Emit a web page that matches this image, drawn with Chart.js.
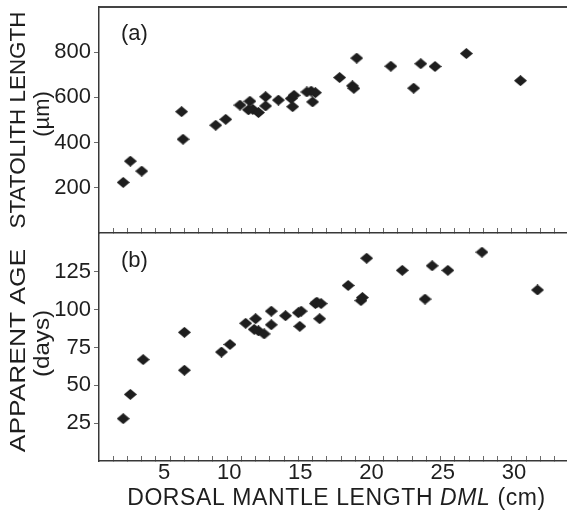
<!DOCTYPE html>
<html>
<head>
<meta charset="utf-8">
<script src="https://cdn.jsdelivr.net/npm/chart.js@4.4.1/dist/chart.umd.min.js"></script>
<style>
  html, body { margin: 0; padding: 0; background: #fff; }
  #wrap { position: relative; width: 573px; height: 519px; }
  #boxA { position: absolute; left: 0; top: 0; width: 573px; height: 240px; }
  #boxB { position: absolute; left: 0; top: 226px; width: 573px; height: 293px; }
</style>
</head>
<body>
<div id="wrap">
  <div id="boxA"><canvas id="chartA" width="573" height="240"></canvas></div>
  <div id="boxB"><canvas id="chartB" width="573" height="293"></canvas></div>
</div>
<script>
// panel (a): statolith length vs DML
const dmlA = [1.7, 2.2, 3.0, 5.8, 5.9, 8.2, 8.9, 9.9, 10.6, 10.5, 10.8, 11.2, 11.7, 11.7, 12.6, 13.5,
  13.7, 13.6, 14.6, 14.9, 15.2, 15.0, 16.9, 17.8, 17.9, 18.1, 20.5, 22.1, 22.6, 23.6, 25.8, 29.6];
const statolith = [224, 318, 274, 537, 415, 477, 503, 566, 583, 545, 547, 533, 562, 603, 588, 595,
  609, 559, 624, 628, 621, 580, 688, 651, 640, 774, 738, 641, 749, 737, 794, 674];

// panel (b): apparent age vs DML
const dmlB = [1.7, 2.2, 3.1, 6.0, 6.0, 8.6, 9.2, 10.3, 11.0, 10.9, 11.2, 11.6, 12.1, 12.1, 13.1, 14.0,
  14.2, 14.1, 15.2, 15.3, 15.6, 15.5, 17.5, 18.4, 18.5, 18.8, 21.3, 22.9, 23.4, 24.5, 26.9, 30.8];
const ageDays = [28, 44, 67, 85, 60, 72, 77, 91, 94, 87, 86, 84, 90, 99, 96, 98,
  99, 89, 104, 105, 104, 94, 116, 106, 108, 134, 126, 107, 129, 126, 138, 113];

const yTicksA = [200, 400, 600, 800];
const yTicksB = [25, 50, 75, 100, 125];
const xLabelEvery = 5;

const FONT = '"Liberation Sans", Arial, Helvetica, sans-serif';
const INK = '#1e1e1e';
const AXIS = '#383838';
const TICK = '#6a6a6a';

Chart.defaults.font.family = FONT;
Chart.defaults.color = INK;

// filled diamond, a little wider than tall like the original
function diamond(w, h) {
  const c = document.createElement('canvas');
  c.width = w; c.height = h;
  const g = c.getContext('2d');
  g.fillStyle = INK;
  g.beginPath();
  g.moveTo(w / 2, 0); g.lineTo(w, h / 2); g.lineTo(w / 2, h); g.lineTo(0, h / 2);
  g.closePath();
  g.fill();
  return c;
}
const marker = diamond(13, 11);

function pts(xs, ys) {
  return xs.map((x, i) => ({ x: x, y: ys[i] }));
}

function xScale(showLabels) {
  return {
    type: 'linear',
    min: 0,
    max: 32.8,
    afterBuildTicks: s => { s.ticks = s.ticks.filter(t => t.value > 0 && Number.isInteger(t.value)); },
    afterFit: s => {
      s.height = showLabels ? 58 : 6;
      s.paddingLeft = 0; s.paddingRight = 0;
    },
    ticks: {
      display: showLabels,
      stepSize: 1,
      includeBounds: false,
      autoSkip: false,
      maxRotation: 0,
      align: 'end',
      padding: 4,
      font: { size: 22 },
      color: INK,
      callback: v => (v % xLabelEvery === 0 ? String(v) : '')
    },
    grid: { drawOnChartArea: false, tickLength: -5, color: TICK, lineWidth: 1 },
    border: { color: AXIS, width: 1.5 }
  };
}

function yScale(max, keep) {
  return {
    min: 0,
    max: max,
    afterBuildTicks: s => { s.ticks = keep.map(v => ({ value: v })); },
    afterFit: s => {
      s.width = 99;
      s.paddingTop = 0; s.paddingBottom = 0;
    },
    ticks: { font: { size: 22 }, padding: 3, color: INK },
    grid: { drawOnChartArea: false, tickLength: 5, color: TICK, lineWidth: 1 },
    border: { color: AXIS, width: 1.5 }
  };
}

// y titles drawn by hand; the original stretches them along the axis
const yTitle = {
  id: 'yTitle',
  afterDraw(chart, args, opts) {
    const { ctx, chartArea } = chart;
    const cy = (chartArea.top + chartArea.bottom) / 2;
    ctx.save();
    ctx.fillStyle = INK;
    ctx.textAlign = 'center';
    ctx.textBaseline = 'middle';
    ctx.font = '22px ' + FONT;
    opts.lines.forEach((ln, i) => {
      ctx.save();
      ctx.translate(opts.x[i], cy + opts.shift[i]);
      ctx.rotate(-Math.PI / 2);
      ctx.scale(opts.stretch[i], 1);
      ctx.fillText(ln, 0, 0);
      ctx.restore();
    });
    ctx.restore();
  }
};

const panelTag = {
  id: 'panelTag',
  afterDraw(chart, args, opts) {
    const { ctx, chartArea } = chart;
    ctx.save();
    ctx.font = '22px ' + FONT;
    ctx.fillStyle = INK;
    ctx.textBaseline = 'alphabetic';
    ctx.fillText(opts.text, chartArea.left + 22, chartArea.top + opts.dy);
    ctx.restore();
  }
};

// x title with italic DML
const xTitle = {
  id: 'xTitle',
  afterDraw(chart, args, opts) {
    if (!opts.parts) return;
    const { ctx, chartArea } = chart;
    ctx.save();
    ctx.fillStyle = INK;
    ctx.textBaseline = 'alphabetic';
    ctx.letterSpacing = '0.6px';
    let total = 0;
    opts.parts.forEach(p => { ctx.font = p[1] + ' 23px ' + FONT; total += ctx.measureText(p[0]).width; });
    let x = (chartArea.left + chartArea.right) / 2 - total / 2 + 4;
    opts.parts.forEach(p => {
      ctx.font = p[1] + ' 23px ' + FONT;
      ctx.fillText(p[0], x, opts.y);
      x += ctx.measureText(p[0]).width;
    });
    ctx.restore();
  }
};

const chartA = new Chart(document.getElementById('chartA'), {
  type: 'scatter',
  data: {
    datasets: [{
      label: 'statolith',
      data: pts(dmlA, statolith),
      pointStyle: marker,
      pointRadius: 6
    }]
  },
  options: {
    responsive: false,
    animation: false,
    layout: { padding: { top: 7, left: 0, right: 0, bottom: 0 } },
    scales: {
      x: xScale(false),
      x2: {
        type: 'linear',
        position: 'top',
        afterFit: s => { s.height = 0; s.paddingLeft = 0; s.paddingRight = 0; },
        ticks: { display: false },
        grid: { display: false, drawTicks: false },
        border: { color: '#444', width: 2 }
      },
      y: yScale(1000, yTicksA)
    },
    plugins: {
      legend: { display: false },
      tooltip: { enabled: false },
      panelTag: { text: '(a)', dy: 33 },
      yTitle: { lines: ['STATOLITH LENGTH', '(\u00b5m)'], x: [19, 43], stretch: [1.02, 1], shift: [0, -6] }
    }
  },
  plugins: [panelTag, xTitle, yTitle]
});

const chartB = new Chart(document.getElementById('chartB'), {
  type: 'scatter',
  data: {
    datasets: [{
      label: 'age',
      data: pts(dmlB, ageDays),
      pointStyle: marker,
      pointRadius: 6
    }]
  },
  options: {
    responsive: false,
    animation: false,
    layout: { padding: { top: 8, left: 0, right: 0, bottom: 0 } },
    scales: {
      x: xScale(true),
      y: yScale(150, yTicksB)
    },
    plugins: {
      legend: { display: false },
      tooltip: { enabled: false },
      panelTag: { text: '(b)', dy: 33 },
      yTitle: { lines: ['APPARENT AGE', '(days)'], x: [19, 43], stretch: [1.2, 1.1], shift: [3, -4] },
      xTitle: { parts: [['DORSAL MANTLE LENGTH ', 'normal'], ['DML', 'italic'], [' (cm)', 'normal']], y: 279 }
    }
  },
  plugins: [panelTag, xTitle, yTitle]
});
</script>
</body>
</html>
